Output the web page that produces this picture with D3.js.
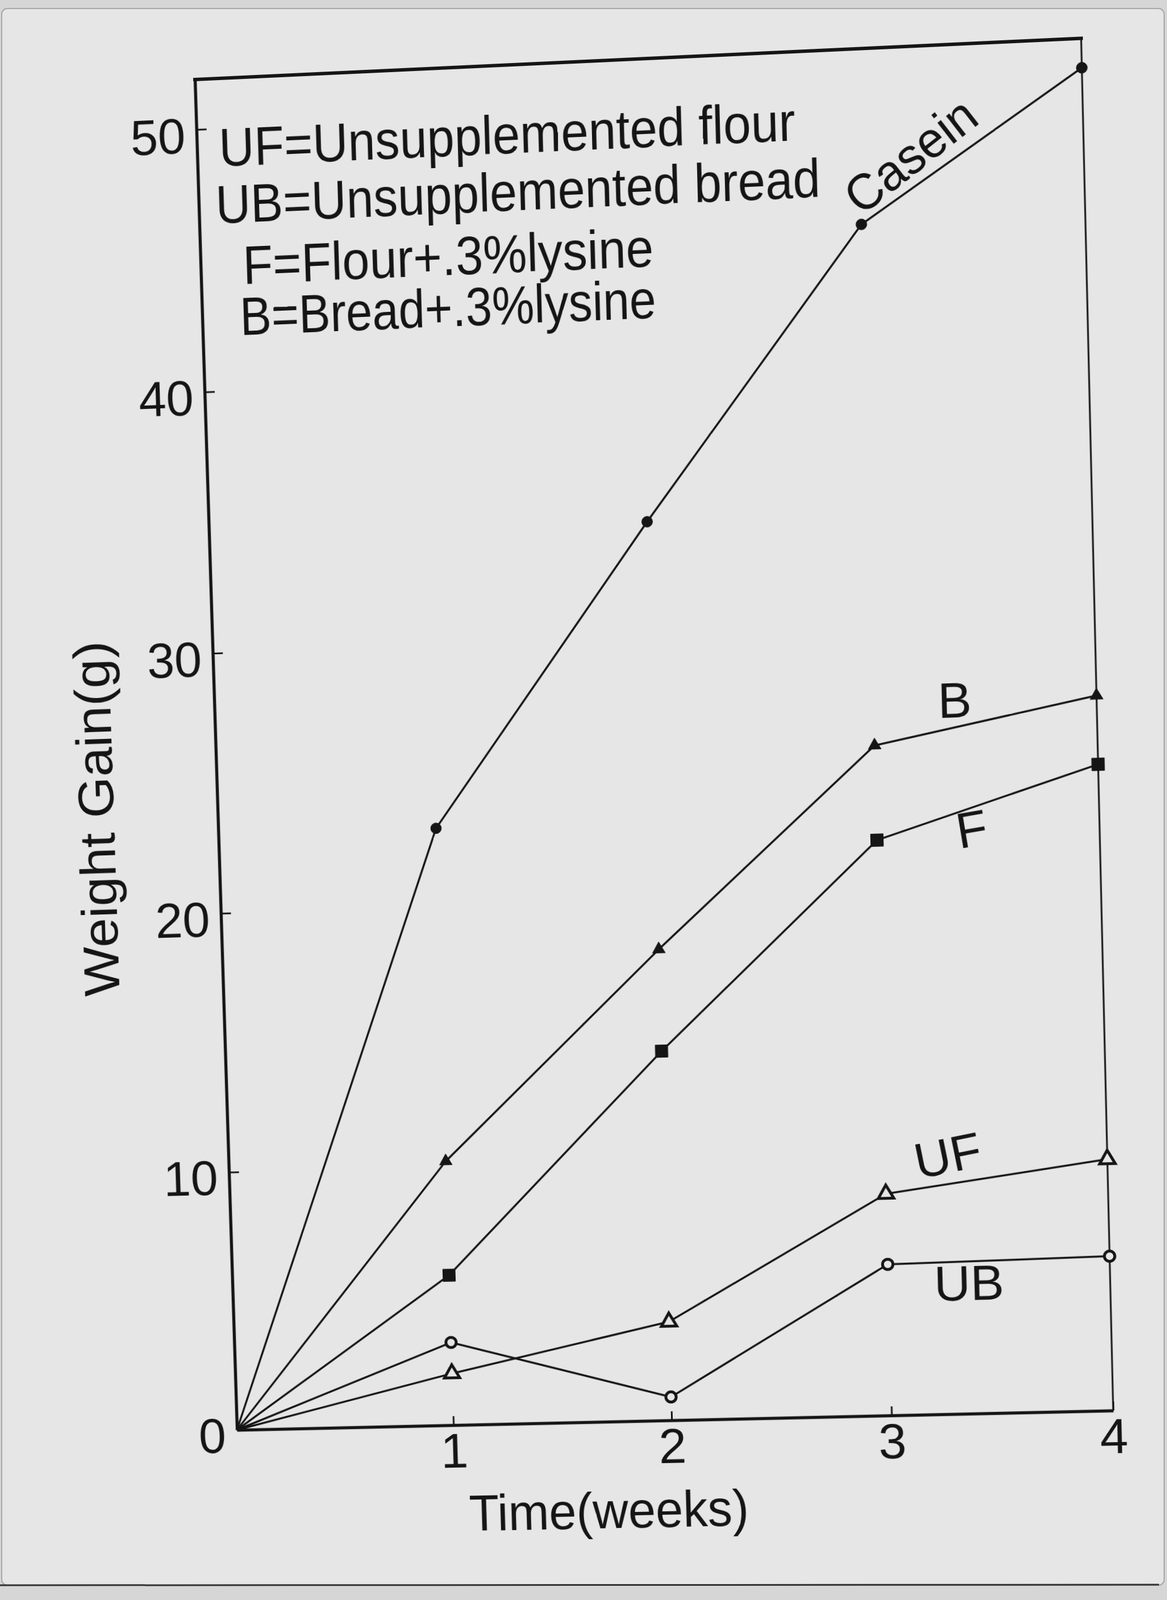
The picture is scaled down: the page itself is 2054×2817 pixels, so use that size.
<!DOCTYPE html>
<html>
<head>
<meta charset="utf-8">
<script src="https://cdn.jsdelivr.net/npm/d3@7"></script>
<style>
  body { margin: 0; background: #d6d6d6; }
  svg { position: absolute; left: 0; top: 0; overflow: visible; }
  #sheet { transform-origin: 0 0; }
  .ink { font-family: 'Liberation Sans', Arial, sans-serif; fill: #151515; }
</style>
</head>
<body>
<svg id="paper" width="2054" height="2817"></svg>
<svg id="sheet" width="2054" height="2817"></svg>
<script>
// data
const weeks = [0, 1, 2, 3, 4];
const caseinGain = [0, 23.0, 34.4, 45.3, 50.8];
const breadLysineGain = [0, 10.2, 18.1, 25.6, 27.2];
const flourLysineGain = [0, 5.8, 14.2, 22.0, 24.6];
const flourGain = [0, 2.0, 3.8, 8.5, 9.6];
const breadGain = [0, 3.2, 0.9, 5.8, 5.9];
const xTicks = [1, 2, 3, 4];
const yTicks = [0, 10, 20, 30, 40, 50];
const legendLines = [
  'UF=Unsupplemented flour',
  'UB=Unsupplemented bread',
  'F=Flour+.3%lysine',
  'B=Bread+.3%lysine',
];

const ink = '#151515';
const paperColor = '#e6e6e6';

// plot frame on the flat sheet
const frame = { left: 380, right: 1930, top: 104, bottom: 2500 };
const yTop = 51.9; // value at the top edge of the drawn frame

// where the frame corners land in the photo (sheet is seen at an angle)
const photoCorners = [[343, 140], [1903, 67.5], [1959, 2483], [417, 2517]];

/**
 * Solves the 3x3 homography taking four source points to four target points
 * @param {number[][]} src Source points
 * @param {number[][]} dst Target points
 * @returns {number[]} a b c d e f g h
 */
function solveHomography(src, dst) {
  const A = [];
  const b = [];
  for (let i = 0; i < 4; i++) {
    const [x, y] = src[i];
    const [X, Y] = dst[i];
    A.push([x, y, 1, 0, 0, 0, -x * X, -y * X]); b.push(X);
    A.push([0, 0, 0, x, y, 1, -x * Y, -y * Y]); b.push(Y);
  }
  const n = 8;
  for (let c = 0; c < n; c++) {
    let p = c;
    for (let r = c + 1; r < n; r++) if (Math.abs(A[r][c]) > Math.abs(A[p][c])) p = r;
    [A[c], A[p]] = [A[p], A[c]];
    [b[c], b[p]] = [b[p], b[c]];
    for (let r = c + 1; r < n; r++) {
      const f = A[r][c] / A[c][c];
      for (let k = c; k < n; k++) A[r][k] -= f * A[c][k];
      b[r] -= f * b[c];
    }
  }
  const h = new Array(n);
  for (let r = n - 1; r >= 0; r--) {
    let s = b[r];
    for (let k = r + 1; k < n; k++) s -= A[r][k] * h[k];
    h[r] = s / A[r][r];
  }
  return h;
}

// paper background
const paper = d3.select('#paper');
paper.append('rect')
  .attr('x', 3).attr('y', 15).attr('width', 2046).attr('height', 2776)
  .attr('rx', 10)
  .attr('fill', paperColor)
  .attr('stroke', '#a8a8a8')
  .attr('stroke-width', 2);
paper.append('line')
  .attr('x1', 0).attr('x2', 2040).attr('y1', 2791).attr('y2', 2790)
  .attr('stroke', '#333').attr('stroke-width', 3);

const svg = d3.select('#sheet');

const xScale = d3.scaleLinear().domain([0, 4]).range([frame.left, frame.right]);
const yScale = d3.scaleLinear().domain([0, yTop]).range([frame.bottom, frame.top]);

// project the flat sheet onto the photo
const [a, b, c, d, e, f, g, h] = solveHomography(
  [[xScale(0), yScale(yTop)], [xScale(4), yScale(yTop)], [xScale(4), yScale(0)], [xScale(0), yScale(0)]],
  photoCorners,
);
svg.style('transform', `matrix3d(${a},${d},0,${g},${b},${e},0,${h},0,0,1,0,${c},${f},0,1)`);

// Axes
const yAxis = svg.append('g')
  .attr('transform', `translate(${xScale(0)},0)`)
  .call(d3.axisLeft(yScale).tickValues(yTicks).tickFormat(d3.format('d'))
    .tickSizeInner(-18).tickSizeOuter(0).tickPadding(20));
const xAxis = svg.append('g')
  .attr('transform', `translate(0,${yScale(0)})`)
  .call(d3.axisBottom(xScale).tickValues(xTicks).tickFormat(d3.format('d'))
    .tickSizeInner(-16).tickSizeOuter(0).tickPadding(14));

[yAxis, xAxis].forEach((ax) => {
  ax.select('.domain').attr('stroke', ink).attr('stroke-width', 5.5);
  ax.selectAll('.tick line').attr('stroke', ink).attr('stroke-width', 3);
  ax.selectAll('.tick text')
    .attr('class', 'ink')
    .attr('fill', ink)
    .style('font-size', '88px');
});
yAxis.selectAll('.tick text').attr('dy', '0.45em');

// top and right edges of the frame
svg.append('line')
  .attr('x1', xScale(0)).attr('x2', xScale(4))
  .attr('y1', yScale(yTop)).attr('y2', yScale(yTop))
  .attr('stroke', ink).attr('stroke-width', 6).attr('stroke-linecap', 'square');
svg.append('line')
  .attr('x1', xScale(4)).attr('x2', xScale(4))
  .attr('y1', yScale(yTop)).attr('y2', yScale(0))
  .attr('stroke', ink).attr('stroke-width', 3);

// Axis titles
svg.append('text')
  .attr('class', 'ink')
  .attr('transform', 'translate(194,1402) rotate(-90)')
  .attr('text-anchor', 'middle')
  .attr('textLength', 632)
  .attr('lengthAdjust', 'spacingAndGlyphs')
  .style('font-size', '90px')
  .text('Weight Gain(g)');
svg.append('text')
  .attr('class', 'ink')
  .attr('x', 1039).attr('y', 2690)
  .attr('text-anchor', 'middle')
  .attr('textLength', 496)
  .attr('lengthAdjust', 'spacingAndGlyphs')
  .style('font-size', '90px')
  .text('Time(weeks)');

// Legend block
const legendLayout = [
  { x: 419, y: 258, len: 1013 },
  { x: 410, y: 358, len: 1063 },
  { x: 455, y: 466, len: 724 },
  { x: 447, y: 556, len: 734 },
];
svg.append('g').selectAll('text')
  .data(legendLines)
  .join('text')
  .attr('class', 'ink')
  .attr('x', (t, i) => legendLayout[i].x)
  .attr('y', (t, i) => legendLayout[i].y)
  .attr('textLength', (t, i) => legendLayout[i].len)
  .attr('lengthAdjust', 'spacingAndGlyphs')
  .style('font-size', '94px')
  .text((t) => t);

// Series
const series = [
  { key: 'Casein', values: caseinGain, symbol: d3.symbolCircle, size: 280, filled: true },
  { key: 'B', values: breadLysineGain, symbol: d3.symbolTriangle, size: 220, filled: true },
  { key: 'F', values: flourLysineGain, symbol: d3.symbolSquare, size: 480, filled: true },
  { key: 'UF', values: flourGain, symbol: d3.symbolTriangle, size: 320, filled: false },
  { key: 'UB', values: breadGain, symbol: d3.symbolCircle, size: 260, filled: false },
];

const line = d3.line()
  .x((v, i) => xScale(weeks[i]))
  .y((v) => yScale(v));

const lines = svg.append('g');
series.forEach((s) => {
  lines.append('path')
    .attr('d', line(s.values))
    .attr('fill', 'none')
    .attr('stroke', ink)
    .attr('stroke-width', 3.5)
    .attr('stroke-linejoin', 'round');
});

const markers = svg.append('g');
series.forEach((s) => {
  markers.append('g')
    .selectAll('path')
    .data(s.values.slice(1).map((v, i) => ({ week: weeks[i + 1], value: v })))
    .join('path')
    .attr('transform', (p) => `translate(${xScale(p.week)},${yScale(p.value)})`)
    .attr('d', d3.symbol(s.symbol, s.size))
    .attr('fill', s.filled ? ink : paperColor)
    .attr('stroke', ink)
    .attr('stroke-width', s.filled ? 1 : 5);
});

// Series labels, anchored in week / gain space
const seriesLabels = [
  { text: 'Casein', week: 3.0, gain: 45.6, angle: -36, anchor: 'start', base: 'auto', len: 262 },
  { text: 'B', week: 3.365, gain: 27.2, angle: 0, anchor: 'middle', base: 'central' },
  { text: 'F', week: 3.427, gain: 22.3, angle: -8, anchor: 'middle', base: 'central' },
  { text: 'UF', week: 3.283, gain: 9.9, angle: -10, anchor: 'middle', base: 'central' },
  { text: 'UB', week: 3.365, gain: 5.0, angle: 0, anchor: 'middle', base: 'central' },
];
svg.append('g').selectAll('text')
  .data(seriesLabels)
  .join('text')
  .attr('class', 'ink')
  .attr('transform', (l) => `translate(${xScale(l.week)},${yScale(l.gain)}) rotate(${l.angle})`)
  .attr('text-anchor', (l) => l.anchor)
  .attr('dominant-baseline', (l) => l.base)
  .attr('textLength', (l) => l.len || null)
  .attr('lengthAdjust', 'spacingAndGlyphs')
  .style('font-size', '88px')
  .text((l) => l.text);
</script>
</body>
</html>
